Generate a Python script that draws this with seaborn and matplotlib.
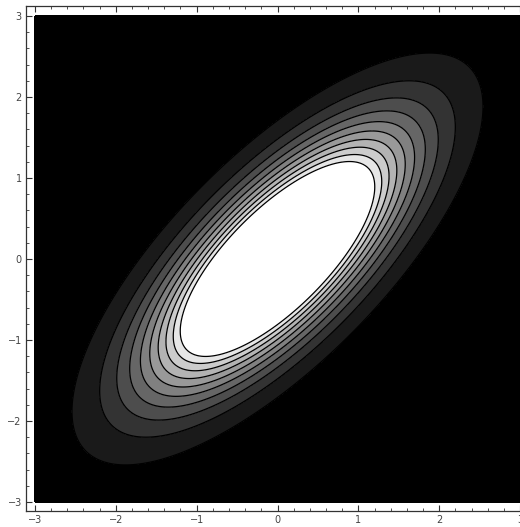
import numpy as np
import matplotlib
matplotlib.use("Agg")
import matplotlib.pyplot as plt
from matplotlib.ticker import MultipleLocator
import seaborn as sns

# Bivariate normal surface (unit variances, correlation rho), peak scaled to 1
rho = 0.74
x_range = [-3.0, 3.0]
y_range = [-3.0, 3.0]

# Ten contour levels and the gray shade of each band (below first = black, above last = white)
levels = [0.0395, 0.089, 0.1385, 0.188, 0.2375, 0.287, 0.3365, 0.386, 0.4355, 0.485]
band_grays = [0.0, 0.1, 0.2, 0.3, 0.4, 0.5, 0.6, 0.7, 0.8, 0.9, 1.0]

tick_values = [-3, -2, -1, 0, 1, 2, 3]

sns.set_theme(style="white")
plt.rcParams["font.family"] = ["DejaVu Sans"]

xs = np.linspace(x_range[0], x_range[1], 500)
ys = np.linspace(y_range[0], y_range[1], 500)
X, Y = np.meshgrid(xs, ys)
Q = (X**2 - 2 * rho * X * Y + Y**2) / (1 - rho**2)
Z = np.exp(-Q / 2)

fig = plt.figure(figsize=(5.2, 5.27), dpi=100)
ax = fig.add_axes([26 / 520, (527 - 511) / 527, (529 - 26) / 520, (511 - 6) / 527])

bounds = [-1.0] + levels + [2.0]
colors = [str(g) for g in band_grays]
ax.contourf(X, Y, Z, levels=bounds, colors=colors, antialiased=False)
ax.contour(X, Y, Z, levels=levels, colors="black", linewidths=0.9)

ax.set_xlim(-3.111, 3.111)
ax.set_ylim(-3.111, 3.123)

ax.set_xticks(tick_values)
ax.set_yticks(tick_values)
ax.xaxis.set_minor_locator(MultipleLocator(0.2))
ax.yaxis.set_minor_locator(MultipleLocator(0.2))
ax.tick_params(which="major", direction="in", length=4.5, width=0.8, color="#333333",
               labelsize=7, labelcolor="#444444", top=True, right=True, bottom=True, left=True,
               pad=3)
ax.tick_params(which="minor", direction="in", length=2.2, width=0.6, color="#333333",
               top=True, right=True, bottom=True, left=True)
for side in ax.spines.values():
    side.set_color("#333333")
    side.set_linewidth(0.9)

fig.savefig("out.png", dpi=100, facecolor="white")
